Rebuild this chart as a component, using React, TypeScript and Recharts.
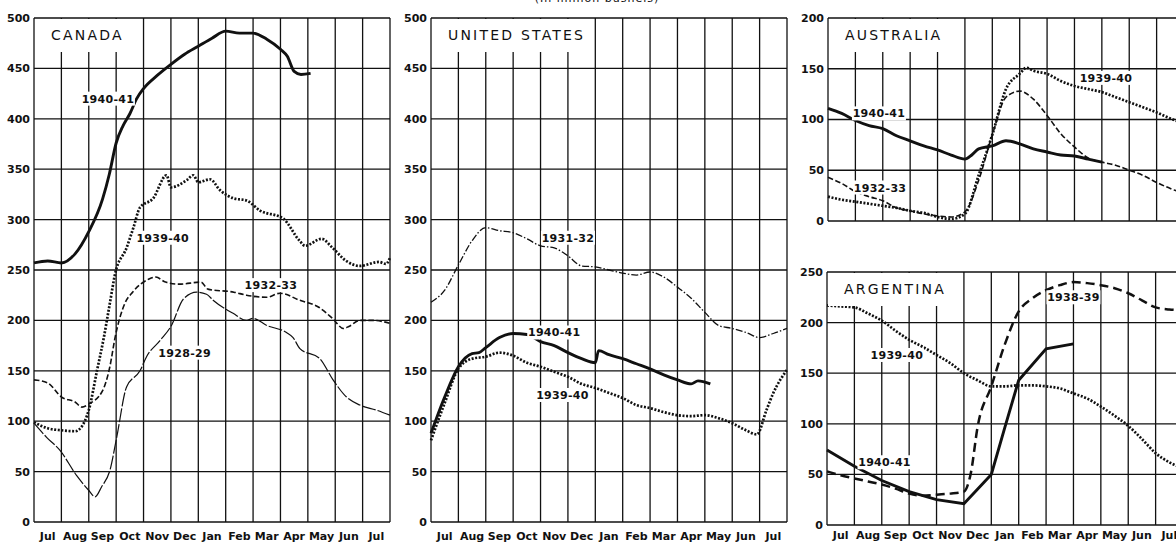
import React from "react";
import { LineChart, Line, XAxis, YAxis, CartesianGrid, ReferenceDot } from "recharts";

// month columns, July to July
const MONTHS = ["Jul", "Aug", "Sep", "Oct", "Nov", "Dec", "Jan", "Feb", "Mar", "Apr", "May", "Jun", "Jul"];
const MONTH_LINES = [0, 1, 2, 3, 4, 5, 6, 7, 8, 9, 10, 11, 12, 13];

const TICKS_500 = [0, 50, 100, 150, 200, 250, 300, 350, 400, 450, 500];
const TICKS_200 = [0, 50, 100, 150, 200];
const TICKS_250 = [0, 50, 100, 150, 200, 250];

// [months after 1 July, million bushels]
const canada1940: [number, number][] = [
  [0, 257], [0.5, 259], [1, 257], [1.5, 266], [2, 288], [2.5, 320], [2.75, 345], [3, 376], [3.25, 393],
  [3.5, 405], [3.75, 420], [4, 430], [4.5, 443], [5, 454], [5.5, 464], [6, 472], [6.5, 480], [7, 487],
  [7.5, 485], [8, 485], [8.5, 479], [9, 469], [9.25, 462], [9.5, 447], [9.75, 444], [10.1, 445],
];
const canada1939: [number, number][] = [
  [0, 99], [0.5, 93], [1, 91], [1.5, 90], [1.75, 95], [2, 111], [2.3, 150], [2.55, 183], [2.77, 217],
  [2.96, 246], [3.38, 272], [3.63, 292], [3.87, 312], [4.35, 321], [4.84, 344], [5, 332], [5.57, 339],
  [5.82, 344], [6, 337], [6.43, 340], [6.8, 329], [7.3, 321], [7.76, 319], [8.25, 309], [9.1, 301],
  [9.7, 279], [9.9, 274], [10.5, 281], [10.9, 272], [11.4, 259], [11.9, 254], [12.6, 258], [12.85, 256],
  [13, 262],
];
const canada1932: [number, number][] = [
  [0, 141], [0.5, 138], [1, 124], [1.5, 119], [1.75, 114], [2, 117], [2.5, 130], [2.77, 154], [2.96, 183],
  [3.32, 217], [3.6, 228], [4.2, 241], [4.45, 243], [4.8, 238], [5.3, 236], [6.1, 238], [6.35, 231],
  [7.3, 228], [7.76, 225], [8.5, 223], [8.98, 227], [9.7, 220], [10.4, 213], [10.9, 202], [11.3, 192],
  [11.5, 194], [11.9, 200], [12.4, 200], [13, 197],
];
const canada1928: [number, number][] = [
  [0, 98], [0.46, 84], [0.95, 71], [1.56, 46], [1.98, 32], [2.23, 25], [2.47, 35], [2.77, 51], [3.02, 84],
  [3.38, 134], [3.87, 150], [4.11, 164], [4.6, 180], [5.02, 195], [5.45, 221], [5.94, 228], [6.3, 226],
  [6.54, 220], [7.27, 207], [7.76, 200], [8, 202], [8.5, 195], [9.22, 188], [9.46, 183], [9.71, 172],
  [10.44, 162], [10.92, 141], [11.41, 124], [11.9, 116], [12.5, 111], [13, 106],
];

const us1931: [number, number][] = [
  [0, 218], [0.5, 230], [1, 255], [1.5, 279], [2, 292], [2.5, 289], [3, 287], [3.5, 281], [4, 274],
  [4.5, 272], [5, 264], [5.5, 254], [6, 253], [6.5, 250], [7, 247], [7.5, 245], [8, 248], [8.5, 243],
  [9, 233], [9.5, 222], [10, 208], [10.5, 195], [11, 192], [11.5, 188], [12, 183], [12.5, 187], [13, 192],
];
const us1940: [number, number][] = [
  [0, 88], [0.5, 124], [1, 154], [1.5, 167], [1.75, 168], [2, 173], [2.5, 183], [3, 187], [3.5, 186],
  [4, 179], [4.5, 175], [5, 168], [5.5, 162], [6, 158], [6.12, 170], [6.5, 166], [7, 162], [7.5, 157],
  [8, 152], [8.5, 146], [9, 141], [9.5, 137], [9.75, 140], [10.2, 137],
];
const us1939: [number, number][] = [
  [0, 81], [0.5, 118], [1, 152], [1.5, 162], [2, 164], [2.5, 168], [3, 165], [3.5, 158], [4, 154],
  [4.5, 149], [5, 144], [5.5, 137], [6, 133], [6.5, 128], [7, 123], [7.5, 116], [8, 113], [8.5, 109],
  [9, 106], [9.5, 105], [10, 106], [10.5, 103], [11, 98], [11.5, 91], [11.9, 87], [12.25, 111],
  [12.5, 128], [13, 151],
];

const aus1940: [number, number][] = [
  [0, 111], [0.5, 106], [1, 99], [1.5, 94], [2, 91], [2.5, 84], [3, 79], [3.5, 74], [4, 70], [4.5, 65],
  [5, 61], [5.25, 65], [5.5, 71], [6, 74], [6.5, 79], [7, 76], [7.5, 71], [8, 68], [8.5, 65], [9, 64],
  [9.5, 61], [10, 58],
];
const aus1932: [number, number][] = [
  [0, 43], [0.5, 37], [1, 29], [1.5, 24], [2, 20], [2.5, 13], [3, 10], [3.5, 7], [4, 5], [4.5, 4],
  [5, 9], [5.5, 40], [6, 85], [6.5, 122], [7, 128], [7.5, 120], [8, 104], [8.5, 86], [9, 73], [9.5, 62],
  [10, 58], [10.5, 55], [11, 50], [11.5, 45], [12, 38], [12.5, 32], [13, 27],
];
const aus1939: [number, number][] = [
  [0, 24], [0.5, 21], [1, 19], [1.5, 17], [2, 15], [2.5, 13], [3, 10], [3.5, 8], [4, 4], [4.5, 2],
  [5, 7], [5.5, 45], [6, 85], [6.5, 130], [7, 145], [7.25, 151], [7.5, 148], [8, 145], [8.5, 138],
  [9, 133], [9.5, 130], [10, 127], [10.5, 122], [11, 117], [11.5, 112], [12, 107], [12.5, 101], [13, 96],
];

const arg1938: [number, number][] = [
  [0, 53], [0.5, 49], [1, 46], [1.5, 43], [2, 40], [2.5, 36], [3, 31], [3.5, 29], [4, 30], [4.5, 31],
  [5, 33], [5.25, 51], [5.5, 97], [6, 137], [6.5, 179], [7, 211], [7.5, 224], [8, 232], [8.5, 237],
  [9, 240], [9.5, 239], [10, 237], [10.5, 234], [11, 229], [11.5, 222], [12, 215], [12.5, 213], [13, 212],
];
const arg1939: [number, number][] = [
  [0, 217], [0.5, 216], [1, 215], [1.5, 209], [2, 202], [2.5, 192], [3, 183], [3.5, 176], [4, 168],
  [4.5, 160], [5, 150], [5.5, 143], [6, 137], [6.5, 137], [7, 138], [7.5, 138], [8, 137], [8.5, 135],
  [9, 130], [9.5, 125], [10, 117], [10.5, 108], [11, 98], [11.5, 85], [12, 71], [12.5, 62], [13, 56],
];
const arg1940: [number, number][] = [
  [0, 74], [1, 58], [2, 44], [3, 33], [4, 25], [5, 21], [6, 50], [6.5, 97], [7, 143], [8, 174], [9, 179],
];

const FONT = "'DejaVu Sans', sans-serif";
const INK = "#111";
const PLOT_W = 356;
const COL_W = PLOT_W / 13;
const YAXIS_W = 30;

type Style = "solid" | "dotted" | "dashed" | "thin" | "dashdot" | "longdash";
type Series = { pts: [number, number][]; style: Style; linear?: boolean };
type Tag = { text: string; m: number; v: number };

const STYLES: Record<Style, { w: number; dash?: string }> = {
  solid: { w: 2.9 },
  dotted: { w: 2.7, dash: "2 1.6" },
  dashed: { w: 1.6, dash: "5.5 2.5" },
  thin: { w: 1.2, dash: "14 2" },
  dashdot: { w: 1.3, dash: "7 2 1.5 2" },
  longdash: { w: 2.5, dash: "9 5" },
};

const rows = (pts: [number, number][]) => pts.map(([m, v]) => ({ m, v }));

const monthTick = (dy: number) => (props: any) => {
  const { x, y, payload } = props;
  const i = payload.value;
  if (i >= MONTHS.length) return <g />;
  return (
    <text x={x + COL_W / 2} y={y + dy} textAnchor="middle" fontSize={11} fontWeight={600} fill={INK} fontFamily={FONT}>
      {MONTHS[i]}
    </text>
  );
};

const tagShape = (text: string) => (p: any) => {
  const w = text.length * 7 + 5;
  return (
    <g>
      <rect x={p.cx - w / 2} y={p.cy - 7} width={w} height={14} fill="#fff" />
      <text x={p.cx} y={p.cy + 4} textAnchor="middle" fontSize={11} fontWeight={600} letterSpacing={0.3} fill={INK} fontFamily={FONT}>
        {text}
      </text>
    </g>
  );
};

type PanelProps = {
  title: string;
  plotLeft: number;
  plotTop: number;
  plotH: number;
  yMax: number;
  yTicks: number[];
  monthDy: number | null;
  titleW: number;
  series: Series[];
  tags: Tag[];
};

function Panel({ title, plotLeft, plotTop, plotH, yMax, yTicks, monthDy, titleW, series, tags }: PanelProps) {
  const xAxisH = monthDy ? 24 : 10;
  return (
    <>
      <div style={{ position: "absolute", left: plotLeft - YAXIS_W, top: plotTop - 10 }}>
        <LineChart width={YAXIS_W + PLOT_W + 4} height={10 + plotH + xAxisH} margin={{ top: 10, right: 4, bottom: 0, left: 0 }}>
          <CartesianGrid stroke={INK} strokeWidth={1.3} />
          <XAxis
            dataKey="m"
            type="number"
            domain={[0, 13]}
            ticks={MONTH_LINES}
            interval={0}
            height={xAxisH}
            axisLine={false}
            tickLine={false}
            tickSize={0}
            tick={monthDy ? monthTick(monthDy) : () => <g />}
          />
          <YAxis
            type="number"
            domain={[0, yMax]}
            ticks={yTicks}
            interval={0}
            width={YAXIS_W}
            axisLine={false}
            tickLine={false}
            tickSize={0}
            tickMargin={4}
            tick={{ fontSize: 11, fill: INK, fontFamily: FONT, fontWeight: 600 }}
          />
          {series.map((s, i) => (
            <Line
              key={i}
              data={rows(s.pts)}
              dataKey="v"
              type={s.linear ? "linear" : "monotone"}
              stroke={INK}
              strokeWidth={STYLES[s.style].w}
              strokeDasharray={STYLES[s.style].dash}
              dot={false}
              activeDot={false}
              isAnimationActive={false}
            />
          ))}
          {tags.map((t) => (
            <ReferenceDot key={t.text} x={t.m} y={t.v} r={0} shape={tagShape(t.text)} />
          ))}
        </LineChart>
      </div>
      <div
        style={{
          position: "absolute",
          left: plotLeft + 1,
          top: plotTop + 1,
          width: titleW,
          height: 33,
          lineHeight: "33px",
          background: "#fff",
          paddingLeft: 16,
          boxSizing: "border-box",
          fontFamily: FONT,
          fontSize: 14,
          letterSpacing: 2.2,
          color: INK,
          whiteSpace: "nowrap",
        }}
      >
        {title}
      </div>
    </>
  );
}

export default function App() {
  return (
    <div style={{ position: "absolute", left: 0, top: 0, width: 1176, height: 543, overflow: "hidden", background: "#fff" }}>
      <div
        style={{
          position: "absolute",
          left: 497,
          top: -8,
          width: 200,
          textAlign: "center",
          fontFamily: FONT,
          fontSize: 11,
          letterSpacing: 1,
          color: INK,
        }}
      >
        (In million bushels)
      </div>
      <Panel
        title="CANADA"
        plotLeft={34}
        plotTop={18}
        plotH={504}
        yMax={500}
        yTicks={TICKS_500}
        monthDy={16}
        titleW={99}
        series={[
          { pts: canada1928, style: "thin" },
          { pts: canada1932, style: "dashed" },
          { pts: canada1939, style: "dotted" },
          { pts: canada1940, style: "solid" },
        ]}
        tags={[
          { text: "1940-41", m: 2.7, v: 420 },
          { text: "1939-40", m: 4.7, v: 282 },
          { text: "1932-33", m: 8.65, v: 235 },
          { text: "1928-29", m: 5.5, v: 168 },
        ]}
      />
      <Panel
        title="UNITED STATES"
        plotLeft={431}
        plotTop={18}
        plotH={504}
        yMax={500}
        yTicks={TICKS_500}
        monthDy={16}
        titleW={161}
        series={[
          { pts: us1931, style: "dashdot" },
          { pts: us1939, style: "dotted" },
          { pts: us1940, style: "solid" },
        ]}
        tags={[
          { text: "1931-32", m: 5.0, v: 282 },
          { text: "1940-41", m: 4.5, v: 188 },
          { text: "1939-40", m: 4.8, v: 126 },
        ]}
      />
      <Panel
        title="AUSTRALIA"
        plotLeft={828}
        plotTop={18}
        plotH={203}
        yMax={200}
        yTicks={TICKS_200}
        monthDy={null}
        titleW={129}
        series={[
          { pts: aus1932, style: "dashed" },
          { pts: aus1939, style: "dotted" },
          { pts: aus1940, style: "solid" },
        ]}
        tags={[
          { text: "1940-41", m: 1.86, v: 106 },
          { text: "1932-33", m: 1.9, v: 33 },
          { text: "1939-40", m: 10.15, v: 141 },
        ]}
      />
      <Panel
        title="ARGENTINA"
        plotLeft={827}
        plotTop={272}
        plotH={253}
        yMax={250}
        yTicks={TICKS_250}
        monthDy={12}
        titleW={131}
        series={[
          { pts: arg1938, style: "longdash" },
          { pts: arg1939, style: "dotted" },
          { pts: arg1940, style: "solid", linear: true },
        ]}
        tags={[
          { text: "1938-39", m: 9.0, v: 225 },
          { text: "1939-40", m: 2.55, v: 168 },
          { text: "1940-41", m: 2.1, v: 62 },
        ]}
      />
    </div>
  );
}
